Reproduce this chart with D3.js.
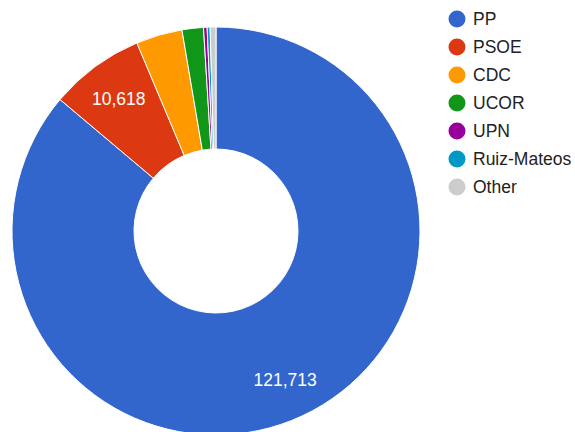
<!DOCTYPE html>
<html>
<head>
<meta charset="utf-8">
<script src="https://cdn.jsdelivr.net/npm/d3@7/dist/d3.min.js"></script>
<style>
html,body{margin:0;padding:0;background:#fff;}
svg{display:block;font-family:"Liberation Sans",Arial,sans-serif;}
</style>
</head>
<body>
<svg id="chart" width="575" height="432"></svg>
<script>
const categories = ["PP", "PSOE", "CDC", "UCOR", "UPN", "Ruiz-Mateos", "Other"];
const values = [121713, 10618, 5180, 2394, 400, 330, 650];
const colors = ["#3366cc", "#dc3912", "#ff9900", "#109618", "#990099", "#0099c6", "#cccccc"];
const labelThreshold = 0.05;

const svg = d3.select("#chart");
const cx = 216, cy = 231, R = 204, r = 82, labelR = 164;

const data = categories.map((c, i) => ({name: c, value: values[i], color: colors[i]}));
const total = d3.sum(values);

const pie = d3.pie().value(d => d.value).sort(null);
const arcs = pie(data);
const arc = d3.arc().innerRadius(r).outerRadius(R);
const labelArc = d3.arc().innerRadius(labelR).outerRadius(labelR);

const g = svg.append("g").attr("transform", `translate(${cx},${cy})`);
g.selectAll("path").data(arcs).join("path")
  .attr("d", arc)
  .attr("fill", d => d.data.color)
  .attr("stroke", "#fff")
  .attr("stroke-width", 1);

const fmt = d3.format(",");
g.selectAll("text.lbl").data(arcs.filter(d => d.data.value / total > labelThreshold)).join("text")
  .attr("class", "lbl")
  .attr("x", d => labelArc.centroid(d)[0])
  .attr("y", d => labelArc.centroid(d)[1] + 6)
  .attr("text-anchor", "middle")
  .attr("fill", "#fff")
  .attr("font-size", 17.5)
  .text(d => fmt(d.data.value));

const legend = svg.append("g");
const ly = d3.scalePoint().domain(categories).range([19, 187]);
const items = legend.selectAll("g").data(data).join("g")
  .attr("transform", d => `translate(457,${ly(d.name)})`);
items.append("circle").attr("r", 8.5).attr("fill", d => d.color);
items.append("text")
  .attr("x", 16).attr("y", 6.3)
  .attr("font-size", 17.5)
  .attr("fill", "#222")
  .text(d => d.name);
</script>
</body>
</html>
